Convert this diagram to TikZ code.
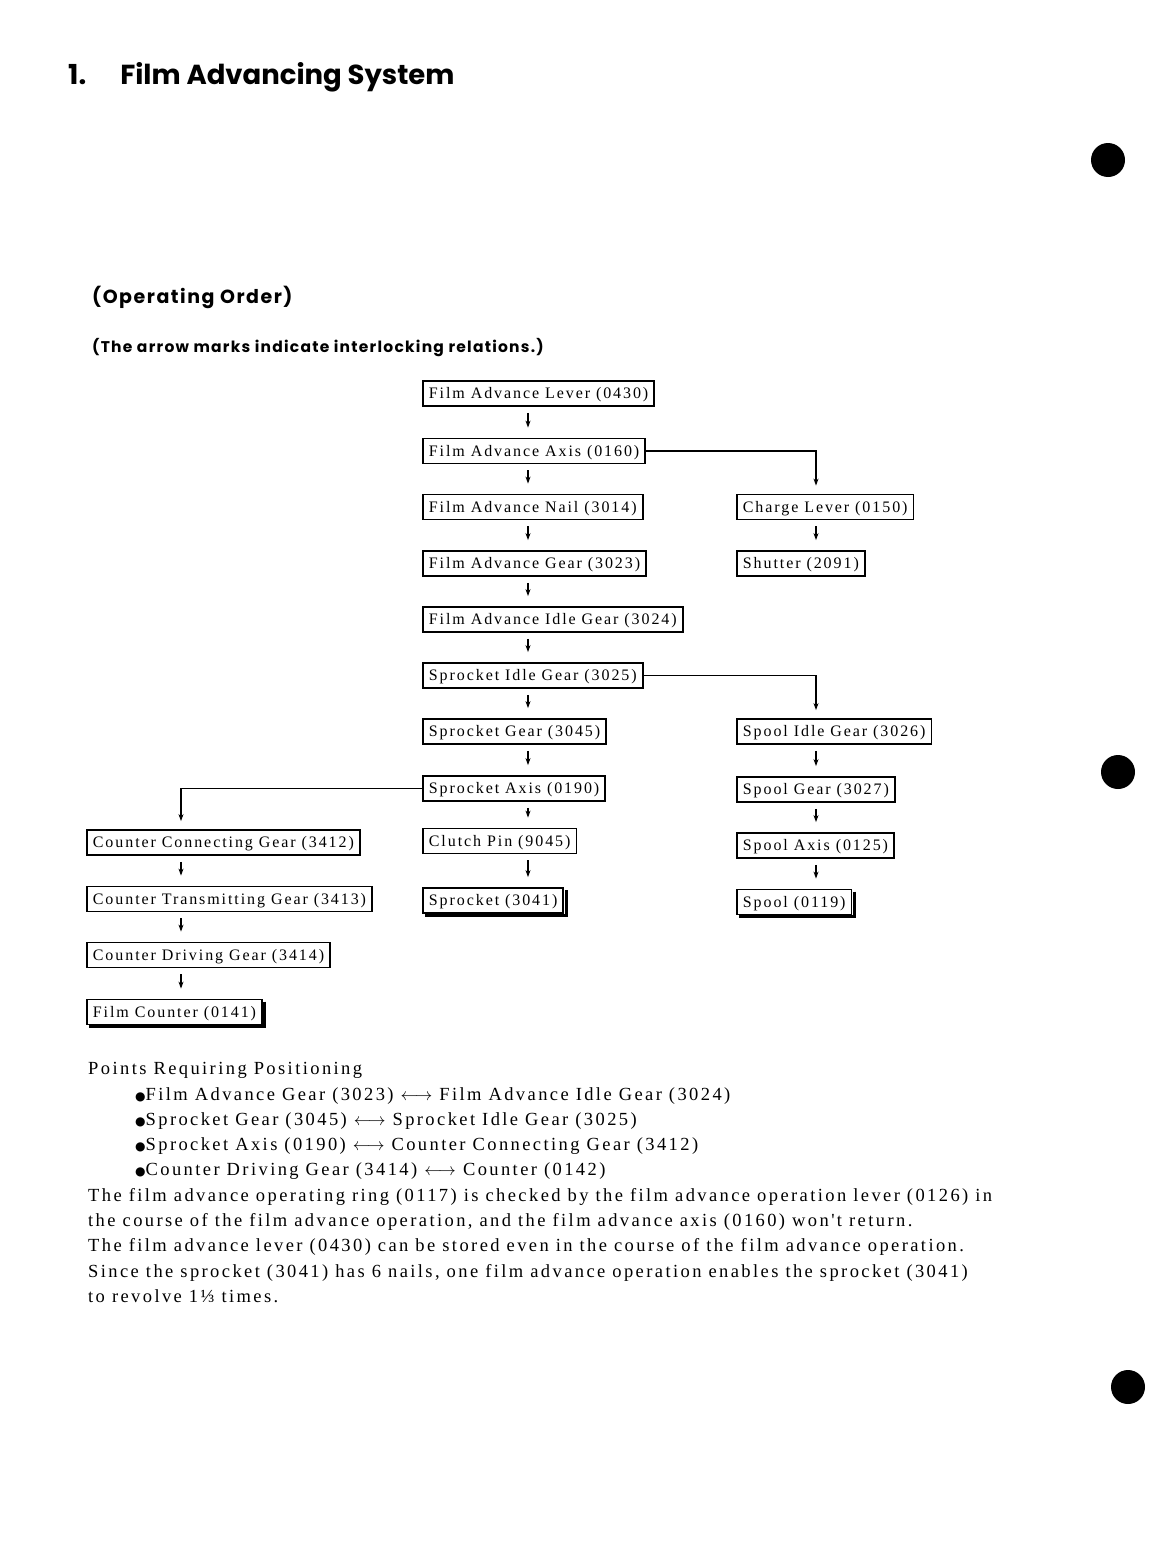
\documentclass[tikz,border=0pt]{standalone}
\usepackage{fontspec}
\usepackage{tikz}
\usetikzlibrary{arrows.meta}
\newfontfamily\headfont{Poppins}
\newfontfamily\hintfont[LetterSpace=8]{Poppins}
\newfontfamily\partfont[LetterSpace=12]{Liberation Serif}
\newfontfamily\notefont[LetterSpace=13]{Liberation Serif}
\newfontfamily\dotfont{DejaVu Sans}

\begin{document}
\begin{tikzpicture}[x=1pt,y=-1pt,
  part/.style={draw,line width=1.8pt,anchor=west,inner xsep=6pt,inner ysep=0pt,minimum height=25pt,text height=13pt,text depth=2.4pt,font=\partfont\fontsize{16}{18}\selectfont},
  flow/.style={line width=1.6pt,-{Stealth[length=7pt,width=5pt]},shorten <=6pt,shorten >=10pt},
  branch/.style={line width=1.6pt,-{Stealth[length=7pt,width=5pt]},shorten >=8pt},
  heavy/.style={line width=3pt},
  note/.style={anchor=base west,inner sep=0pt,font=\notefont\fontsize{18.5}{21}\selectfont}]
  \useasboundingbox (0,0) rectangle (1152,1558);

  % page heading
  \node[anchor=base west,inner sep=0pt,font=\headfont\bfseries\fontsize{27.5}{32}\selectfont] (title) at (68,84) {1.\hspace{34pt}Film Advancing System};
  \node[anchor=base west,inner sep=0pt,font=\hintfont\bfseries\fontsize{19}{22}\selectfont] (order) at (92,303) {(Operating Order)};
  \node[anchor=base west,inner sep=0pt,font=\hintfont\bfseries\fontsize{15.5}{18}\selectfont] (hint) at (92,352) {(The arrow marks indicate interlocking relations.)};

  % main chain
  \node[part] (lever) at (422,393.5) {Film Advance Lever (0430)};
  \node[part] (axis) at (422,451) {Film Advance Axis (0160)};
  \node[part] (nail) at (422,507) {Film Advance Nail (3014)};
  \node[part] (gear) at (422,563.5) {Film Advance Gear (3023)};
  \node[part] (idle) at (422,619.5) {Film Advance Idle Gear (3024)};
  \node[part] (sidle) at (422,675.5) {Sprocket Idle Gear (3025)};
  \node[part] (sgear) at (422,731.5) {Sprocket Gear (3045)};
  \node[part] (saxis) at (422,788.5) {Sprocket Axis (0190)};
  \node[part] (clutch) at (422,841) {Clutch Pin (9045)};
  \node[part] (sprocket) at (422,900.5) {Sprocket (3041)};

  % right chains
  \node[part] (charge) at (736,507) {Charge Lever (0150)};
  \node[part] (shutter) at (736,563.5) {Shutter (2091)};
  \node[part] (spidle) at (736,731.5) {Spool Idle Gear (3026)};
  \node[part] (spgear) at (736,789.5) {Spool Gear (3027)};
  \node[part] (spaxis) at (736,845.5) {Spool Axis (0125)};
  \node[part] (spool) at (736,902) {Spool (0119)};

  % counter chain
  \node[part] (ccg) at (86,842.5) {Counter Connecting Gear (3412)};
  \node[part] (ctg) at (86,899) {Counter Transmitting Gear (3413)};
  \node[part] (cdg) at (86,955) {Counter Driving Gear (3414)};
  \node[part] (counter) at (86,1012) {Film Counter (0141)};

  % heavy edges of the last parts
  \draw[heavy] ([xshift=2pt,yshift=-3pt]sprocket.north east) -- ([xshift=2pt,yshift=-1.5pt]sprocket.south east) -- ([xshift=3pt,yshift=-1.5pt]sprocket.south west);
  \draw[heavy] ([xshift=2pt,yshift=-3pt]spool.north east) -- ([xshift=2pt,yshift=-1.5pt]spool.south east) -- ([xshift=3pt,yshift=-1.5pt]spool.south west);
  \draw[heavy] ([xshift=2pt,yshift=-3pt]counter.north east) -- ([xshift=2pt,yshift=-1.5pt]counter.south east) -- ([xshift=3pt,yshift=-1.5pt]counter.south west);

  % arrows
  \draw[flow] ([xshift=106pt]lever.south west) -- ([xshift=106pt]axis.north west);
  \draw[flow] ([xshift=106pt]axis.south west) -- ([xshift=106pt]nail.north west);
  \draw[flow] ([xshift=106pt]nail.south west) -- ([xshift=106pt]gear.north west);
  \draw[flow] ([xshift=106pt]gear.south west) -- ([xshift=106pt]idle.north west);
  \draw[flow] ([xshift=106pt]idle.south west) -- ([xshift=106pt]sidle.north west);
  \draw[flow] ([xshift=106pt]sidle.south west) -- ([xshift=106pt]sgear.north west);
  \draw[flow] ([xshift=106pt]sgear.south west) -- ([xshift=106pt]saxis.north west);
  \draw[flow] ([xshift=106pt]saxis.south west) -- ([xshift=106pt]clutch.north west);
  \draw[flow] ([xshift=106pt]clutch.south west) -- ([xshift=106pt]sprocket.north west);

  \draw[flow] ([xshift=80pt]charge.south west) -- ([xshift=80pt]shutter.north west);
  \draw[flow] ([xshift=80pt]spidle.south west) -- ([xshift=80pt]spgear.north west);
  \draw[flow] ([xshift=80pt]spgear.south west) -- ([xshift=80pt]spaxis.north west);
  \draw[flow] ([xshift=80pt]spaxis.south west) -- ([xshift=80pt]spool.north west);

  \draw[flow] ([xshift=95pt]ccg.south west) -- ([xshift=95pt]ctg.north west);
  \draw[flow] ([xshift=95pt]ctg.south west) -- ([xshift=95pt]cdg.north west);
  \draw[flow] ([xshift=95pt]cdg.south west) -- ([xshift=95pt]counter.north west);

  \draw[branch] (axis.east) -| ([xshift=80pt]charge.north west);
  \draw[branch] (sidle.east) -| ([xshift=80pt]spidle.north west);
  \draw[branch] (saxis.west) -| ([xshift=95pt]ccg.north west);

  % notes
  \node[note] (pts) at (88,1074) {Points Requiring Positioning};
  \node[note] (pa) at (135,1100) {{\dotfont\fontsize{12}{14}\selectfont●}Film Advance Gear (3023) $\longleftrightarrow$ Film Advance Idle Gear (3024)};
  \node[note] (pb) at (135,1125) {{\dotfont\fontsize{12}{14}\selectfont●}Sprocket Gear (3045) $\longleftrightarrow$ Sprocket Idle Gear (3025)};
  \node[note] (pc) at (135,1150) {{\dotfont\fontsize{12}{14}\selectfont●}Sprocket Axis (0190) $\longleftrightarrow$ Counter Connecting Gear (3412)};
  \node[note] (pd) at (135,1175) {{\dotfont\fontsize{12}{14}\selectfont●}Counter Driving Gear (3414) $\longleftrightarrow$ Counter (0142)};
  \node[note] (ta) at (88,1201) {The film advance operating ring (0117) is checked by the film advance operation lever (0126) in};
  \node[note] (tb) at (88,1226) {the course of the film advance operation, and the film advance axis (0160) won't return.};
  \node[note] (tc) at (88,1251) {The film advance lever (0430) can be stored even in the course of the film advance operation.};
  \node[note] (td) at (88,1277) {Since the sprocket (3041) has 6 nails, one film advance operation enables the sprocket (3041)};
  \node[note] (te) at (88,1302) {to revolve 1⅓ times.};

  % binder holes
  \fill (1108,160) circle (17);
  \fill (1118,772) circle (17);
  \fill (1128,1387) circle (17);
\end{tikzpicture}
\end{document}
